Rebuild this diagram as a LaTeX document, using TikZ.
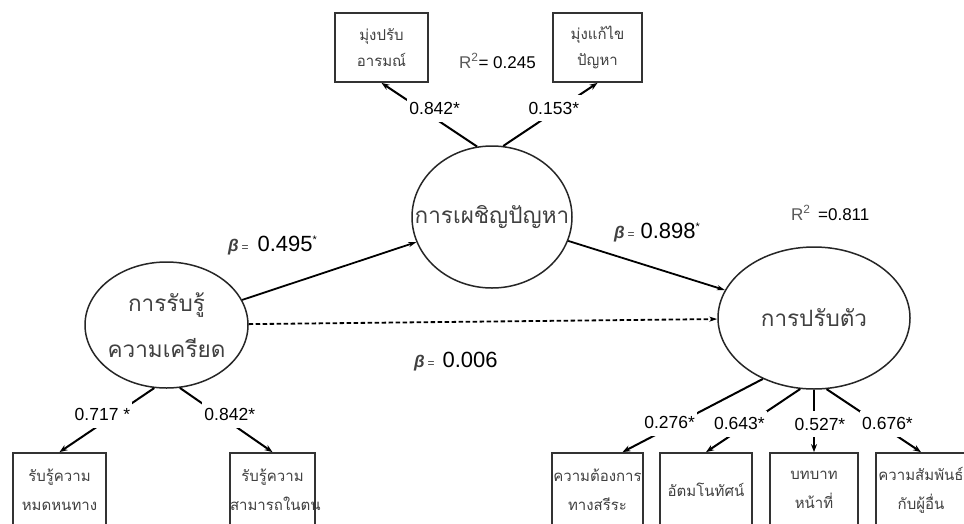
\documentclass[tikz,border=0pt]{standalone}
\usepackage{fontspec}
\setmainfont{Liberation Sans}
\newfontfamily\thaifont[Script=Thai]{Loma}
\usetikzlibrary{shapes.geometric,arrows.meta}

\begin{document}
\begin{tikzpicture}[x=1pt,y=-1pt,
  latent/.style={ellipse, draw=black!85, line width=1.5pt, inner sep=0pt},
  latenttext/.style={inner sep=0pt, align=center, text=black!75,
    font=\thaifont\fontsize{22.5}{46}\selectfont},
  indicator/.style={rectangle, draw=black!80, line width=1.8pt, inner xsep=0pt,
    inner ysep=0pt, align=center, text=black!75,
    font=\thaifont\fontsize{15}{29}\selectfont},
  structpath/.style={line width=1.8pt, -{Stealth[length=8pt,width=5pt]}},
  loading/.style={line width=2pt, -{Stealth[length=8pt,width=6pt]}},
  lbl/.style={fill=white, inner xsep=2pt, inner ysep=7pt,
    font=\fontsize{17.5}{17.5}\selectfont},
  stat/.style={anchor=west, inner sep=0pt, font=\fontsize{17}{17}\selectfont},
  betasym/.style={},
]
\useasboundingbox (0,0) rectangle (964,523);
\clip (0,0) rectangle (964,523);
\fill[white] (0,0) rectangle (964,523);

% latent variables
\node[latent, minimum width=160pt, minimum height=142pt] (coping) at (492,217) {};
\node[latenttext] (copingtxt) at (coping) {การเผชิญปัญหา};
\node[latent, minimum width=163pt, minimum height=126pt] (stress) at (166.5,325) {};
\node[latenttext] (stresstxt) at (stress) {การรับรู้\\ความเครียด};
\node[latent, minimum width=192pt, minimum height=142pt] (adapt) at (814,318) {};
\node[latenttext] (adapttxt) at (adapt) {การปรับตัว};

% observed indicators of coping
\node[indicator, text width=93pt, minimum height=69pt, font=\thaifont\fontsize{15}{26}\selectfont] (emo) at (381.5,47.5) {มุ่งปรับ\\อารมณ์};
\node[indicator, text width=89pt, minimum height=69pt, font=\thaifont\fontsize{15}{26}\selectfont] (prob) at (597.5,47.5) {มุ่งแก้ไข\\ปัญหา};

% observed indicators of perceived stress
\node[indicator, text width=93pt, minimum height=74pt] (helpless) at (59.5,490) {รับรู้ความ\\หมดหนทาง};
\node[indicator, text width=85pt, minimum height=74pt] (efficacy) at (272.5,490) {รับรู้ความ\\สามารถในตน};

% observed indicators of adaptation
\node[indicator, text width=91pt, minimum height=74pt] (physio) at (597.5,490) {ความต้องการ\\ทางสรีระ};
\node[indicator, text width=92pt, minimum height=74pt] (selfc) at (706,490) {อัตมโนทัศน์};
\node[indicator, text width=88pt, minimum height=74pt] (role) at (814,490) {บทบาท\\หน้าที่};
\node[indicator, text width=90pt, minimum height=74pt] (inter) at (921,490) {ความสัมพันธ์\\กับผู้อื่น};

% structural paths
\draw[structpath] (stress) -- (coping);
\draw[structpath] (coping) -- (adapt);
\draw[structpath, dash pattern=on 4.5pt off 2.5pt] (stress) -- (adapt);

% factor loadings
\draw[loading] (coping.102) -- node[lbl, pos=0.6, xshift=15pt] {0.842*} (emo.south);
\draw[loading] (coping.81) -- node[lbl, pos=0.6, xshift=-6pt] {0.153*} (prob.south);
\draw[loading] (stress.259) -- node[lbl, pos=0.42, xshift=-12pt] {0.717 *} (helpless.north);
\draw[loading] (stress.282) -- node[lbl, pos=0.42, xshift=11pt] {0.842*} (efficacy.north);
\draw[loading] (adapt.230) -- node[lbl, pos=0.6, xshift=-9pt] {0.276*} ([xshift=25pt]physio.north);
\draw[loading] (adapt.259) -- node[lbl, pos=0.55, xshift=-9pt] {0.643*} (selfc.north);
\draw[loading] (adapt.270) -- node[lbl, pos=0.55, xshift=6pt] {0.527*} (role.north);
\draw[loading] (adapt.280) -- node[lbl, pos=0.55, xshift=9pt] {0.676*} (inter.north);

% path coefficients
\node[stat] (b1) at (228,245) {{\fontsize{17}{17}\selectfont\bfseries\itshape\color{black!75}β}\,{\fontsize{12}{12}\selectfont\color{black!75}=}\hspace{9pt}{\fontsize{22}{22}\selectfont 0.495}{\fontsize{11}{11}\selectfont\raisebox{8pt}{*}}};
\node[stat] (b2) at (614,232) {{\fontsize{17}{17}\selectfont\bfseries\itshape\color{black!75}β}\,{\fontsize{12}{12}\selectfont\color{black!75}=}\hspace{6pt}{\fontsize{22}{22}\selectfont 0.898}{\fontsize{11}{11}\selectfont\raisebox{8pt}{*}}};
\node[stat] (b3) at (414,362) {{\fontsize{17}{17}\selectfont\bfseries\itshape\color{black!75}β}\,{\fontsize{12}{12}\selectfont\color{black!75}=}\hspace{8pt}{\fontsize{22}{22}\selectfont 0.006}};

% explained variance
\node[stat] (r1) at (459,61) {{\color{black!65}R\textsuperscript{2}}= 0.245};
\node[stat] (r2) at (791,213) {{\color{black!65}R\textsuperscript{2}}\ \,=0.811};
\end{tikzpicture}
\end{document}
